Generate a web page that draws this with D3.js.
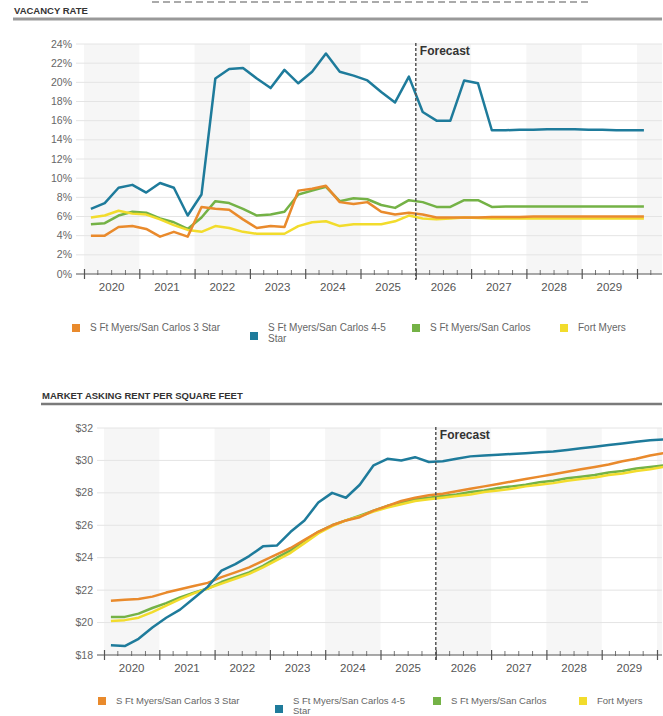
<!DOCTYPE html>
<html>
<head>
<meta charset="utf-8">
<script src="https://cdn.jsdelivr.net/npm/d3@7"></script>
<style>
  body { margin: 0; background: #fff; }
  text { font-family: "Liberation Sans", Arial, sans-serif; }
</style>
</head>
<body>
<script>

// categories
var years = [2020, 2021, 2022, 2023, 2024, 2025, 2026, 2027, 2028, 2029]
var seriesNames = ['S Ft Myers/San Carlos 3 Star', 'S Ft Myers/San Carlos 4-5 Star', 'S Ft Myers/San Carlos', 'Fort Myers']
var seriesColors = ['#e98a2c', '#1e7b9b', '#74b246', '#f2dc2c']
var forecastStart = 2026

// vacancy rate (%), quarterly 2020 Q1 .. 2030 Q1
var vac3Star = [4.0, 4.0, 4.9, 5.0, 4.7, 3.9, 4.4, 3.9, 7.0, 6.8, 6.7, 5.7, 4.8, 5.0, 4.9, 8.7, 8.9, 9.2, 7.5, 7.3,
  7.5, 6.5, 6.2, 6.4, 6.2, 5.9, 5.9, 5.9, 5.9, 5.95, 5.95, 5.95, 6.0, 6.0, 6.0, 6.0, 6.0, 6.0, 6.0, 6.0, 6.0]
var vac45Star = [6.8, 7.4, 9.0, 9.3, 8.5, 9.5, 9.0, 6.1, 8.3, 20.4, 21.4, 21.5, 20.4, 19.4, 21.3, 19.9, 21.1, 23.0, 21.1, 20.7,
  20.2, 19.0, 17.9, 20.6, 16.9, 16.0, 16.0, 20.2, 19.9, 15.0, 15.0, 15.05, 15.05, 15.1, 15.1, 15.1, 15.05, 15.05, 15.0, 15.0, 15.0]
var vacSubmarket = [5.2, 5.3, 6.1, 6.5, 6.4, 5.8, 5.4, 4.7, 5.9, 7.6, 7.4, 6.8, 6.1, 6.2, 6.5, 8.3, 8.7, 9.1, 7.6, 7.9,
  7.8, 7.2, 6.9, 7.7, 7.5, 7.0, 7.0, 7.7, 7.7, 7.0, 7.05, 7.05, 7.05, 7.05, 7.05, 7.05, 7.05, 7.05, 7.05, 7.05, 7.05]
var vacFortMyers = [5.9, 6.1, 6.6, 6.3, 6.2, 5.7, 5.1, 4.6, 4.4, 5.0, 4.8, 4.4, 4.2, 4.2, 4.2, 5.0, 5.4, 5.5, 5.0, 5.2,
  5.2, 5.2, 5.5, 6.1, 5.8, 5.7, 5.8, 5.9, 5.85, 5.8, 5.8, 5.8, 5.8, 5.8, 5.8, 5.8, 5.8, 5.8, 5.8, 5.8, 5.8]

// market asking rent per sf ($), quarterly 2020 Q1 .. 2030 Q1
var rent3Star = [21.35, 21.4, 21.45, 21.6, 21.85, 22.05, 22.25, 22.45, 22.8, 23.1, 23.4, 23.8, 24.2, 24.6, 25.1, 25.6, 26.0, 26.3, 26.5, 26.9,
  27.2, 27.5, 27.7, 27.85, 27.95, 28.1, 28.25, 28.4, 28.55, 28.7, 28.85, 29.0, 29.15, 29.3, 29.45, 29.6, 29.75, 29.95, 30.1, 30.3, 30.45]
var rent45Star = [18.6, 18.55, 19.0, 19.7, 20.3, 20.8, 21.5, 22.2, 23.2, 23.6, 24.1, 24.7, 24.75, 25.6, 26.3, 27.4, 28.0, 27.7, 28.5, 29.7,
  30.1, 30.0, 30.2, 29.9, 29.95, 30.1, 30.25, 30.3, 30.35, 30.4, 30.45, 30.5, 30.55, 30.65, 30.75, 30.85, 30.95, 31.05, 31.15, 31.25, 31.3]
var rentSubmarket = [20.35, 20.35, 20.55, 20.9, 21.2, 21.55, 21.85, 22.1, 22.5, 22.8, 23.1, 23.5, 24.0, 24.45, 25.05, 25.6, 26.0, 26.3, 26.6, 26.9,
  27.2, 27.4, 27.6, 27.7, 27.8, 27.9, 28.05, 28.15, 28.3, 28.4, 28.5, 28.65, 28.75, 28.9, 29.0, 29.1, 29.25, 29.35, 29.5, 29.6, 29.7]
var rentFortMyers = [20.1, 20.15, 20.3, 20.65, 21.05, 21.45, 21.8, 22.1, 22.4, 22.7, 23.0, 23.4, 23.85, 24.3, 24.9, 25.5, 25.95, 26.3, 26.55, 26.85,
  27.1, 27.3, 27.5, 27.6, 27.7, 27.8, 27.9, 28.05, 28.15, 28.25, 28.4, 28.5, 28.6, 28.75, 28.85, 28.95, 29.1, 29.2, 29.35, 29.45, 29.6]

// tick values
var vacTicks = [0, 2, 4, 6, 8, 10, 12, 14, 16, 18, 20, 22, 24]
var rentTicks = [18, 20, 22, 24, 26, 28, 30, 32]

var width = 663, height = 716

var svg = d3.select("body")
  .append("svg")
  .attr("width", width)
  .attr("height", height)

// faint dashed rule at very top (left over from previous page section)
svg.append("line")
  .attr("x1", 152).attr("x2", 592)
  .attr("y1", 2).attr("y2", 2)
  .attr("stroke", "#aaa")
  .attr("stroke-width", 2)
  .attr("stroke-dasharray", "7,4")

// vacancy chart
drawChart(svg, {
  title: 'VACANCY RATE',
  titleX: 14, titleY: 14, ruleY: 19, ruleW: 3, ruleColor: '#999',
  x0: 84, axisStart: 76, right: 662,
  yTop: 44, yBottom: 274,
  domain: [0, 24], ticks: vacTicks,
  fmt: function(d) { return d + '%' },
  labelX: 72,
  series: [vacSubmarket, vacFortMyers, vac3Star, vac45Star],
  seriesIdx: [2, 3, 0, 1],
  legendY: 324, legendX: [72, 250, 412, 560], legendFont: 10, legendDy: 10.5
})

// rent chart
drawChart(svg, {
  title: 'MARKET ASKING RENT PER SQUARE FEET',
  titleX: 42, titleY: 399, ruleY: 404, ruleW: 2.5, ruleColor: '#7a7a7a',
  x0: 104, axisStart: 97, right: 662,
  yTop: 428, yBottom: 655,
  domain: [18, 32], ticks: rentTicks,
  fmt: function(d) { return '$' + d },
  labelX: 93,
  series: [rentSubmarket, rentFortMyers, rent3Star, rent45Star],
  seriesIdx: [2, 3, 0, 1],
  legendY: 697, legendX: [98, 275, 433, 579], legendFont: 9.5, legendDy: 9.5
})

function drawChart(svg, c) {

  var g = svg.append("g")

  // title and rule
  g.append("text")
    .attr("x", c.titleX)
    .attr("y", c.titleY)
    .attr("font-size", 9.5)
    .attr("font-weight", "bold")
    .attr("fill", "#333")
    .text(c.title)

  g.append("line")
    .attr("x1", c.titleX - 1).attr("x2", c.right)
    .attr("y1", c.ruleY).attr("y2", c.ruleY)
    .attr("stroke", c.ruleColor)
    .attr("stroke-width", c.ruleW)

  var x = d3.scaleLinear()
    .domain([2020, 2030])
    .range([c.x0, c.x0 + 553])

  var y = d3.scaleLinear()
    .domain(c.domain)
    .range([c.yBottom, c.yTop])

  // alternating year bands
  var bandYears = years.concat([2030]).filter(function(d) { return d % 2 == 0 })
  g.selectAll(".band")
    .data(bandYears)
    .enter().append("rect")
    .attr("x", function(d) { return x(d) })
    .attr("width", function(d) { return Math.min(x(d + 1), c.right) - x(d) })
    .attr("y", c.yTop)
    .attr("height", c.yBottom - c.yTop)
    .attr("fill", "#f6f6f6")

  // horizontal grid
  g.selectAll(".grid")
    .data(c.ticks.slice(1))
    .enter().append("line")
    .attr("x1", c.axisStart).attr("x2", c.right)
    .attr("y1", function(d) { return y(d) })
    .attr("y2", function(d) { return y(d) })
    .attr("stroke", "#e4e4e4")
    .attr("stroke-width", 1)

  // y labels
  g.selectAll(".ylab")
    .data(c.ticks)
    .enter().append("text")
    .attr("x", c.labelX)
    .attr("y", function(d) { return y(d) + 3.5 })
    .attr("text-anchor", "end")
    .attr("font-size", 10.5)
    .attr("fill", "#666")
    .text(c.fmt)

  // x axis with quarter ticks
  var xAxis = d3.axisBottom(x)
    .tickValues(d3.range(2020, 2030.01, 1))
    .tickSize(5)
    .tickFormat("")
  var gx = g.append("g")
    .attr("transform", "translate(0," + c.yBottom + ")")
    .call(xAxis)
  gx.select(".domain").remove()
  gx.selectAll(".tick line")
    .attr("y1", -5)
    .attr("stroke", "#555")
    .attr("stroke-width", 1.2)

  var minor = []
  years.concat([2030]).forEach(function(yr) { [0.25, 0.5, 0.75].forEach(function(q) { minor.push(yr + q) }) })
  g.selectAll(".minor")
    .data(minor.filter(function(d) { return x(d) < c.right }))
    .enter().append("line")
    .attr("x1", function(d) { return x(d) })
    .attr("x2", function(d) { return x(d) })
    .attr("y1", c.yBottom - 4)
    .attr("y2", c.yBottom + 1)
    .attr("stroke", "#777")

  g.append("line")
    .attr("x1", c.axisStart).attr("x2", c.right)
    .attr("y1", c.yBottom).attr("y2", c.yBottom)
    .attr("stroke", "#555")
    .attr("stroke-width", 1.2)

  // year labels
  g.selectAll(".xlab")
    .data(years)
    .enter().append("text")
    .attr("x", function(d) { return x(d + 0.5) })
    .attr("y", c.yBottom + 17)
    .attr("text-anchor", "middle")
    .attr("font-size", 11.5)
    .attr("fill", "#555")
    .text(function(d) { return d })

  // lines
  var line = d3.line()
    .x(function(d, i) { return x(2020 + (i + 0.5) / 4) })
    .y(function(d) { return y(d) })

  c.series.forEach(function(s, k) {
    g.append("path")
      .datum(s)
      .attr("d", line)
      .attr("fill", "none")
      .attr("stroke", seriesColors[c.seriesIdx[k]])
      .attr("stroke-width", 2.5)
      .attr("stroke-linejoin", "round")
  })

  // forecast marker
  g.append("line")
    .attr("x1", x(forecastStart)).attr("x2", x(forecastStart))
    .attr("y1", c.yTop - 1).attr("y2", c.yBottom + 6)
    .attr("stroke", "#555")
    .attr("stroke-width", 1.5)
    .attr("stroke-dasharray", "3,2")

  g.append("text")
    .attr("x", x(forecastStart) + 4)
    .attr("y", c.yTop + 11)
    .attr("font-size", 12)
    .attr("font-weight", "bold")
    .attr("fill", "#333")
    .text("Forecast")

  // legend
  seriesNames.forEach(function(name, k) {
    var lx = c.legendX[k]
    var sq = k == 1 ? 8 : 0
    g.append("rect")
      .attr("x", lx).attr("y", c.legendY + sq)
      .attr("width", 8).attr("height", 8)
      .attr("fill", seriesColors[k])
    var t = g.append("text")
      .attr("x", lx + 18)
      .attr("y", c.legendY + 7)
      .attr("font-size", c.legendFont)
      .attr("fill", "#666")
    if (k == 1) {
      t.append("tspan").text("S Ft Myers/San Carlos 4-5")
      t.append("tspan").attr("x", lx + 18).attr("dy", c.legendDy).text("Star")
    } else {
      t.text(name)
    }
  })
}

</script>
</body>
</html>
